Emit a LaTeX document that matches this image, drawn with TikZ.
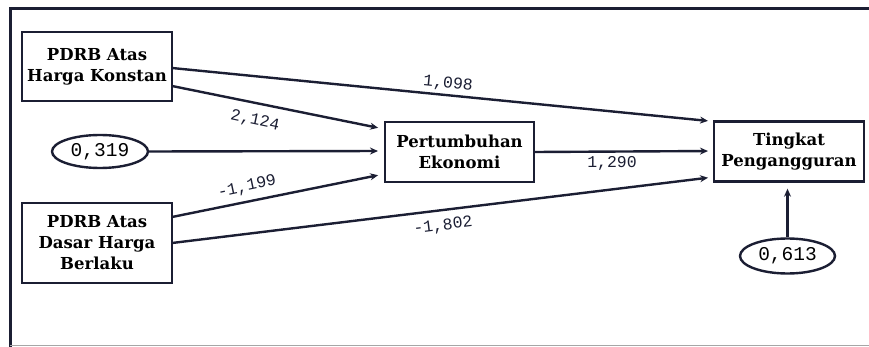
\documentclass[tikz,border=0pt]{standalone}
\usepackage{fontspec}
\setmainfont{DejaVu Serif}
\newfontfamily\lblfont{Liberation Mono}
\usetikzlibrary{shapes.geometric,arrows.meta}
\definecolor{ink}{HTML}{1B1E33}
\tikzset{
  varbox/.style={draw=ink,line width=2.4pt,align=center,font=\bfseries\fontsize{16.5}{21}\selectfont,inner sep=0pt},
  errell/.style={draw=ink,line width=2.4pt,ellipse,inner sep=0pt,font=\lblfont\fontsize{19.5}{20}\selectfont},
  path/.style={draw=ink,line width=2.4pt,-{Stealth[length=8pt,width=7pt]},shorten >=6pt},
  coef/.style={font=\lblfont\fontsize{16.5}{17}\selectfont,text=ink,inner sep=1pt}
}
\begin{document}
\begin{tikzpicture}[x=1pt,y=-1pt]
\useasboundingbox (0,0) rectangle (869,347);
\fill[white] (0,0) rectangle (869,347);
% frame
\draw[ink,line width=3pt] (869,9) -- (10.5,9) -- (10.5,347);
\draw[gray!70,line width=1.2pt] (10,345.5) -- (869,345.5);
% nodes
\node[varbox,minimum width=150pt,minimum height=69pt] (pk) at (97,66.5) {PDRB Atas\\Harga Konstan};
\node[varbox,minimum width=150pt,minimum height=80pt] (pb) at (97,243) {PDRB Atas\\Dasar Harga\\Berlaku};
\node[varbox,minimum width=149pt,minimum height=60pt] (pe) at (459.5,152) {Pertumbuhan\\Ekonomi};
\node[varbox,minimum width=150pt,minimum height=60pt] (tp) at (789,151.5) {Tingkat\\Pengangguran};
\node[errell,minimum width=96pt,minimum height=33pt] (e1) at (100,151.5) {0,319};
\node[errell,minimum width=95pt,minimum height=35pt] (e2) at (787.5,256) {0,613};
% coordinates
\coordinate (pk1) at (172,68);
\coordinate (pk2) at (172,86);
\coordinate (pb1) at (172,217);
\coordinate (pb2) at (172,243);
\coordinate (pe1) at (384,129);
\coordinate (pe2) at (384,151);
\coordinate (pe3) at (384,174);
\coordinate (tp1) at (714,121.5);
\coordinate (tp2) at (714,151);
\coordinate (tp3) at (714,177);
% paths
\draw[path] (pk1) -- (tp1);
\draw[path] (pk2) -- (pe1);
\draw[path] (e1.east) -- (pe2);
\draw[path] (pb1) -- (pe3);
\draw[path] (pb2) -- (tp3);
\draw[path] (pe.east) -- (tp2);
\draw[path] (e2.north) -- (e2.north |- tp.south);
% labels
\node[coef,rotate=-5.7] (l1) at (448,84) {1,098};
\node[coef,rotate=-12] (l2) at (255,121) {2,124};
\node[coef,rotate=12] (l3) at (247,187) {-1,199};
\node[coef,rotate=7] (l4) at (443,226) {-1,802};
\node[coef] (l5) at (612,163) {1,290};
\end{tikzpicture}
\end{document}
